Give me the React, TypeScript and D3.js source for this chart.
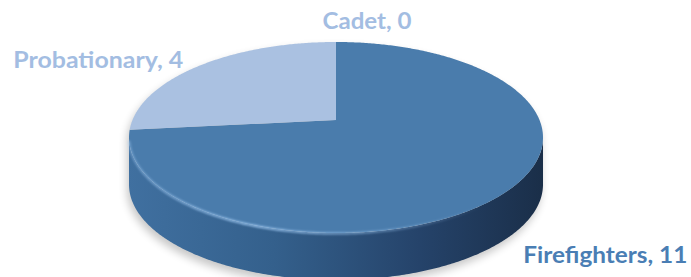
import React from "react";
import * as d3 from "d3";

// ---- data ----
const categories: string[] = ["Firefighters", "Probationary", "Cadet"];
const values: number[] = [11, 4, 0];
const topColors: string[] = ["#4A7CAC", "#AAC1E1", "#C6D6EE"];
const labelColors: string[] = ["#4A7EB4", "#A3BDE2", "#A3BDE2"];

// ---- layout ----
const W = 691;
const H = 277;
const CX = 336; // projected pie centre
const CY = 120;
const A = 203.5; // horizontal radius factor
const B = 92.3; // vertical radius factor
const K = 0.183; // perspective strength
const DEPTH = 47; // thickness of the pie

type P = [number, number];

function proj(theta: number, r = 1, dy = 0): P {
  const u = Math.sin(theta) * r;
  const v = -Math.cos(theta) * r;
  const w = 1 - K * v;
  return [CX + (A * u) / w, CY + (B * v) / w + dy];
}

function arcPoints(a0: number, a1: number, dy = 0): P[] {
  const n = Math.max(2, Math.ceil(Math.abs(a1 - a0) / 0.01));
  return d3.range(n + 1).map((i) => proj(a0 + ((a1 - a0) * i) / n, 1, dy));
}

const line = d3.line<P>().x((d) => d[0]).y((d) => d[1]);

export default function App() {
  const pie = d3
    .pie<number>()
    .sort(null)
    .value((d) => d)
    .startAngle(0)
    .endAngle(2 * Math.PI);
  const arcs = pie(values);

  const thR = Math.acos(-K); // right tangent of outline
  const thL = 2 * Math.PI - Math.acos(-K); // left tangent

  const frontTop = arcPoints(thR, thL, 0);
  const frontBottom = arcPoints(thL, thR, DEPTH);
  const sidePath = line([...frontTop, ...frontBottom])! + "Z";

  // full silhouette: back arc of the top (left tangent -> top -> right tangent), then bottom front arc back to left
  const silhouette =
    line([...arcPoints(thL - 2 * Math.PI, thR, 0), ...arcPoints(thR, thL, DEPTH)])! + "Z";

  const slicePaths = arcs.map((a) => {
    if (a.endAngle - a.startAngle < 1e-6) return null;
    const pts: P[] = [[CX, CY], ...arcPoints(a.startAngle, a.endAngle, 0)];
    return line(pts)! + "Z";
  });

  const highlight = line(arcPoints(thR + 0.05, thL - 0.03, 0.5))!;

  // label anchors derived from slice mid angles
  const mids = arcs.map((a) => (a.startAngle + a.endAngle) / 2);
  const ff = proj(mids[0], 1, DEPTH);
  const pr = proj(mids[1], 1, 0);
  const cd = proj(mids[2] === 2 * Math.PI ? 0 : mids[2], 1, 0);

  const labels = [
    { x: ff[0] + 15, y: ff[1] + 26, anchor: "start", len: 164 },
    { x: pr[0] - 18, y: pr[1] + 3, anchor: "end", len: 170 },
    { x: cd[0] + 31, y: cd[1] - 13, anchor: "middle", len: 89 },
  ];

  return (
    <svg
      width={W}
      height={H}
      style={{ position: "absolute", left: 0, top: 0, background: "#fff" }}
    >
      <defs>
        <linearGradient id="sideGrad" x1="128" x2="545" y1="0" y2="0" gradientUnits="userSpaceOnUse">
          <stop offset="0" stopColor="#4070A0" />
          <stop offset="0.35" stopColor="#34608C" />
          <stop offset="0.7" stopColor="#25436A" />
          <stop offset="1" stopColor="#1A2E48" />
        </linearGradient>
        <linearGradient id="hlGrad" x1="128" x2="545" y1="0" y2="0" gradientUnits="userSpaceOnUse">
          <stop offset="0" stopColor="#9CC6F0" stopOpacity="0.5" />
          <stop offset="0.3" stopColor="#9CC6F0" stopOpacity="0.95" />
          <stop offset="0.6" stopColor="#9CC6F0" stopOpacity="0.5" />
          <stop offset="0.85" stopColor="#9CC6F0" stopOpacity="0" />
        </linearGradient>
        <filter id="shadow" x="-20%" y="-20%" width="140%" height="160%">
          <feGaussianBlur stdDeviation="4" />
        </filter>
        <filter id="soft" x="-10%" y="-10%" width="120%" height="120%">
          <feGaussianBlur stdDeviation="0.8" />
        </filter>
      </defs>

      {/* shadow */}
      <path d={silhouette} transform="translate(-2,5)" fill="#000" opacity={0.22} filter="url(#shadow)" />

      {/* side */}
      <path d={sidePath} fill="url(#sideGrad)" />

      {/* top slices */}
      {slicePaths.map((d, i) =>
        d ? <path key={categories[i]} d={d} fill={topColors[i]} /> : null
      )}

      {/* bevel highlight on the front edge */}
      <path d={highlight} fill="none" stroke="url(#hlGrad)" strokeWidth={2.2} filter="url(#soft)" />

      {/* labels */}
      {labels.map((l, i) => (
        <text
          key={categories[i]}
          x={l.x}
          y={l.y}
          textAnchor={l.anchor as any}
          fill={labelColors[i]}
          fontFamily="Lato, 'Open Sans', sans-serif"
          fontWeight={700}
          fontSize={23}
          textLength={l.len}
          lengthAdjust="spacingAndGlyphs"
        >
          {`${categories[i]}, ${values[i]}`}
        </text>
      ))}
    </svg>
  );
}
